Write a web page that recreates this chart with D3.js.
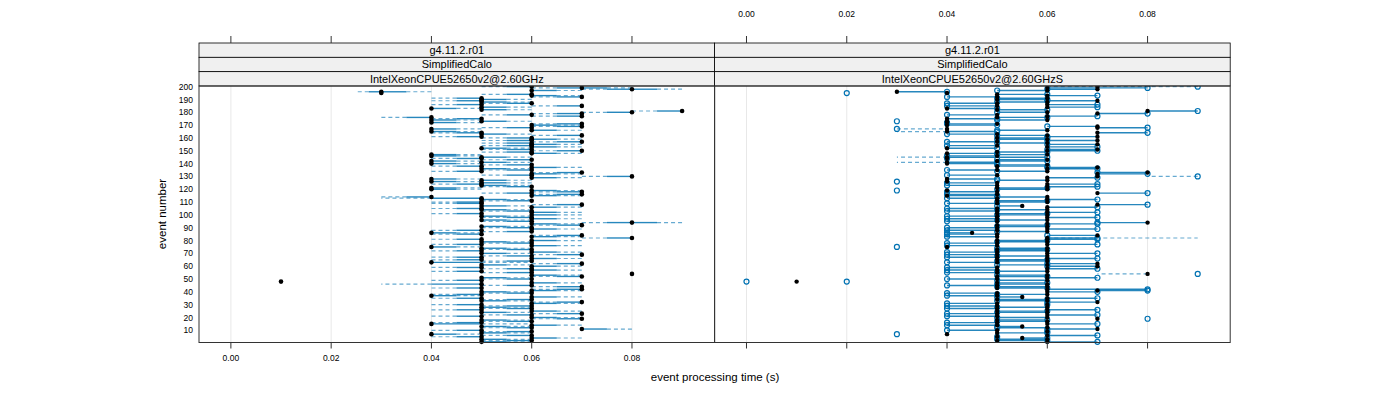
<!DOCTYPE html>
<html><head><meta charset="utf-8">
<script src="https://cdn.jsdelivr.net/npm/d3@7"></script>
<style>body{margin:0;background:#fff}svg{display:block}text{font-family:"Liberation Sans",Arial,sans-serif}</style>
</head><body><svg id="c" width="1400" height="400"></svg>
<script>
// panel strip labels
const stripRow1 = ["g4.11.2.r01", "g4.11.2.r01"];
const stripRow2 = ["SimplifiedCalo", "SimplifiedCalo"];
const stripRow3 = ["IntelXeonCPUE52650v2@2.60GHz", "IntelXeonCPUE52650v2@2.60GHzS"];
const xTicks = [0.00, 0.02, 0.04, 0.06, 0.08];
const yTicks = [10,20,30,40,50,60,70,80,90,100,110,120,130,140,150,160,170,180,190,200];
// event processing time in units of 0.01 s, events 1..200
const leftTime = [
5,6,5,6,5,6,4,5,6,5,7,6,5,6,4,5,6,5,7,6,
5,6,7,5,6,5,6,5,6,5,6,7,5,6,5,6,4,5,6,5,
6,7,5,7,6,5,6,1,5,6,5,7,6,8,6,5,6,6,5,6,
5,7,4,6,5,6,5,6,7,5,6,5,6,5,4,6,5,6,5,6,
5,8,6,7,5,4,6,5,6,6,5,7,6,8,6,5,6,6,5,6,
5,6,6,5,5,6,5,7,5,5,6,5,5,4,6,7,6,7,6,4,
4,6,5,5,5,4,5,4,6,8,6,6,7,5,6,5,6,5,6,4,
5,4,6,5,5,4,4,6,6,7,6,5,6,6,6,6,7,6,6,6,
5,7,5,5,4,6,4,6,7,6,7,4,5,4,5,4,7,6,7,8,
9,5,4,5,7,5,6,5,5,5,5,7,6,6,3,3,6,8,7,6];
// reference time each left point is linked to (0 = none)
const leftRef = [
6,5,6,7,4,5,5,6,5,4,8,5,6,7,6,4,5,6,6,7,
4,5,6,6,7,4,5,6,5,4,7,6,6,5,4,7,5,4,5,6,
7,6,4,6,5,3,7,0,4,5,6,6,7,0,5,4,7,5,4,7,
6,6,6,5,4,7,4,5,6,6,7,4,5,6,5,7,4,5,6,7,
4,7,7,6,4,5,5,4,7,5,6,6,7,7,5,6,7,5,6,7,
4,7,5,6,4,7,6,6,4,4,5,6,3,3,7,6,5,6,7,5,
5,5,6,4,6,5,6,5,7,7,5,7,6,4,5,6,7,4,5,5,
6,5,5,4,6,5,5,7,5,6,5,6,7,5,7,5,6,5,7,5,
4,6,6,4,5,7,5,5,6,7,6,5,6,5,4,3,6,5,6,7,
8,6,5,6,6,4,5,6,4,6,4,6,7,5,0,4,7,9,8,5];
const leftRef2 = {94: 9, 196: 2.5, 198: 7, 199: 6};
const rightTime = [
6,5,6,5.5,5,6,4,5,6,5,7,6,5.5,5,6,5,6,5,7,6,
5,6,5,6,5,6,5,6,5,6,5,7,6,5,6,5.5,5,6,5,6,
7,6,5,6,5,6,5,1,6,5,6,5,6,8,5,6,5,6,5,7,
6,7,5,6,5,6,5,6,5,6,5,6,5,6,4,5,6,5,6,5,
6,6,5,7,5,4.5,6,5,6,5,6,5,6,8,5,6,5,6,5,6,
5,6,5,6,5,6,5.5,7,5,6,5,6,5,6,4,5,7,5,4,6,
5,6,5,6,5,4,6,4,6,7,5,7,8,6,5,6,7,5,6,4,
4,5,6,4,4,5,6,4,5,6,7,4,6,5,7,6,5,7,6,5,
7,6,5,7,4,6,4,7,7,4,5,4,4,6,4,5,6,5,7,6,
8,5,4,6,5,6,5,6,7,5,6,5,6,5,4,3,6,7,6,7];
const rightOpen = [
7,6,5,6,5,7,3,6,6,4,6,5,5,4,7,4,5,6,8,5,
4,7,4,5,6,7,4,5,4,6,4,6,5,6,7,5,4,5,4,7,
8,8,6,5,4,5,6,0,5,4,7,6,5,9,4,5,4,7,4,6,
5,6,4,5,6,7,4,5,4,7,4,5,6,5,3,4,7,4,5,6,
7,7,4,6,4,4,5,4,7,4,5,6,7,7,4,5,4,7,4,5,
6,7,4,5,4,7,5,8,4,5,6,7,4,5,5,4,8,4,3,5,
6,7,4,7,4,3,5,5,7,9,4,8,7,5,4,7,6,6,5,5,
5,6,5,4,6,4,5,5,6,7,6,5,7,4,6,5,4,6,5,6,
6,5,4,8,5,5,3,8,6,5,4,4,3,5,5,6,7,4,8,5,
9,6,5,7,4,7,4,5,6,6,5,4,7,6,2,4,5,6,8,9];
const rightOpen2 = {48: 2};
// events whose open point is not joined to the filled one
const rightUnlinked = [7, 19, 48, 54, 75, 119, 126, 130, 167, 173, 195, 200];
const rightDashed = {82: 9, 141: 3, 145: 3, 165: 3, 54: 7, 130: 8, 167: 4, 200: 6};

const svg = d3.select("#c");
const P = {top: 86, bottom: 342.5, w: 515.6};
const panelX = [199, 714.6];
const x = d3.scaleLinear().domain([-0.00636, 0.09648]).range([0, P.w]);
const y = d3.scaleLinear().domain([0.5, 200.5]).range([P.bottom, P.top]);
const BLUE = "#0072B2";
const events = leftTime.map((_, i) => i + 1);

function seg(g, ev, from, to) {
  // solid half next to the point, dashed half towards the reference
  const a = x(from / 100), b = x(to / 100), m = (a + b) / 2, yy = y(ev);
  g.append("line").attr("x1", a).attr("x2", m).attr("y1", yy).attr("y2", yy)
    .attr("stroke", BLUE).attr("stroke-width", 1.4).attr("stroke-opacity", 0.85);
  g.append("line").attr("x1", m).attr("x2", b).attr("y1", yy).attr("y2", yy)
    .attr("stroke", BLUE).attr("stroke-width", 1.2).attr("stroke-opacity", 0.6)
    .attr("stroke-dasharray", "4,3");
}

panelX.forEach((px, pi) => {
  const g = svg.append("g").attr("transform", `translate(${px},0)`);
  // grid
  g.selectAll(".grid").data(xTicks).join("line")
    .attr("x1", d => x(d)).attr("x2", d => x(d)).attr("y1", P.top).attr("y2", P.bottom)
    .attr("stroke", "#e8e8e8").attr("stroke-width", 1);
  const lg = g.append("g");
  if (pi === 0) {
    events.forEach((ev, i) => {
      if (leftRef[i] > 0) seg(lg, ev, leftTime[i], leftRef[i]);
      if (leftRef2[ev]) seg(lg, ev, leftTime[i], leftRef2[ev]);
    });
    g.selectAll(".pt").data(events).join("circle")
      .attr("cx", d => x(leftTime[d - 1] / 100)).attr("cy", d => y(d)).attr("r", 2.3).attr("fill", "#000");
  } else {
    events.forEach((ev, i) => {
      const a = x(rightTime[i] / 100), b = x(rightOpen[i] / 100), yy = y(ev);
      if (rightOpen[i] !== rightTime[i] && !rightUnlinked.includes(ev))
        lg.append("line").attr("x1", a).attr("x2", b).attr("y1", yy).attr("y2", yy)
          .attr("stroke", BLUE).attr("stroke-width", 1.4).attr("stroke-opacity", 0.85);
      if (rightDashed[ev] !== undefined) {
        const from = rightUnlinked.includes(ev) && ev !== 54 ? b : a;
        lg.append("line").attr("x1", from).attr("x2", x(rightDashed[ev] / 100)).attr("y1", yy).attr("y2", yy)
          .attr("stroke", BLUE).attr("stroke-width", 1.2).attr("stroke-opacity", 0.6).attr("stroke-dasharray", "4,3");
      }
    });
    const opens = events.map(ev => ({ev, v: rightOpen[ev - 1]}));
    Object.keys(rightOpen2).forEach(k => opens.push({ev: +k, v: rightOpen2[k]}));
    g.selectAll(".op").data(opens).join("circle")
      .attr("cx", d => x(d.v / 100)).attr("cy", d => y(d.ev)).attr("r", 2.5)
      .attr("fill", "none").attr("stroke", BLUE).attr("stroke-width", 1.2);
    g.selectAll(".pt").data(events).join("circle")
      .attr("cx", d => x(rightTime[d - 1] / 100)).attr("cy", d => y(d)).attr("r", 2.2).attr("fill", "#000");
  }
  // strips
  const stripH = 14.33;
  [stripRow1, stripRow2, stripRow3].forEach((row, ri) => {
    const sy = 43 + ri * stripH;
    g.append("rect").attr("x", 0).attr("y", sy).attr("width", P.w).attr("height", stripH)
      .attr("fill", "#f0f0f0").attr("stroke", "#000").attr("stroke-width", 0.8);
    g.append("text").attr("x", P.w / 2).attr("y", sy + stripH / 2).attr("dy", "0.36em")
      .attr("text-anchor", "middle").attr("font-size", 11).text(row[pi]);
  });
  // panel border
  g.append("rect").attr("x", 0).attr("y", P.top).attr("width", P.w).attr("height", P.bottom - P.top)
    .attr("fill", "none").attr("stroke", "#333").attr("stroke-width", 1);
  // ticks top and bottom
  g.selectAll(".tt").data(xTicks).join("line")
    .attr("x1", d => x(d)).attr("x2", d => x(d)).attr("y1", 36).attr("y2", 43).attr("stroke", "#333");
  g.selectAll(".tb").data(xTicks).join("line")
    .attr("x1", d => x(d)).attr("x2", d => x(d)).attr("y1", P.bottom).attr("y2", P.bottom + 6).attr("stroke", "#333");
  const fmt = d3.format(".2f");
  g.selectAll(".tl").data(xTicks).join("text").attr("x", d => x(d)).attr("y", pi === 0 ? 358 : 14)
    .attr("dy", "0.36em").attr("text-anchor", "middle").attr("font-size", 8.5).text(fmt);
});
// y tick labels
svg.selectAll(".yl").data(yTicks).join("text").attr("x", 193).attr("y", d => y(d)).attr("dy", "0.36em")
  .attr("text-anchor", "end").attr("font-size", 8.5).text(d => d);
svg.append("text").attr("transform", "translate(166,214) rotate(-90)").attr("text-anchor", "middle")
  .attr("font-size", 11.5).text("event number");
svg.append("text").attr("x", 715).attr("y", 377).attr("dy", "0.36em").attr("text-anchor", "middle")
  .attr("font-size", 11.5).text("event processing time (s)");
</script></body></html>
